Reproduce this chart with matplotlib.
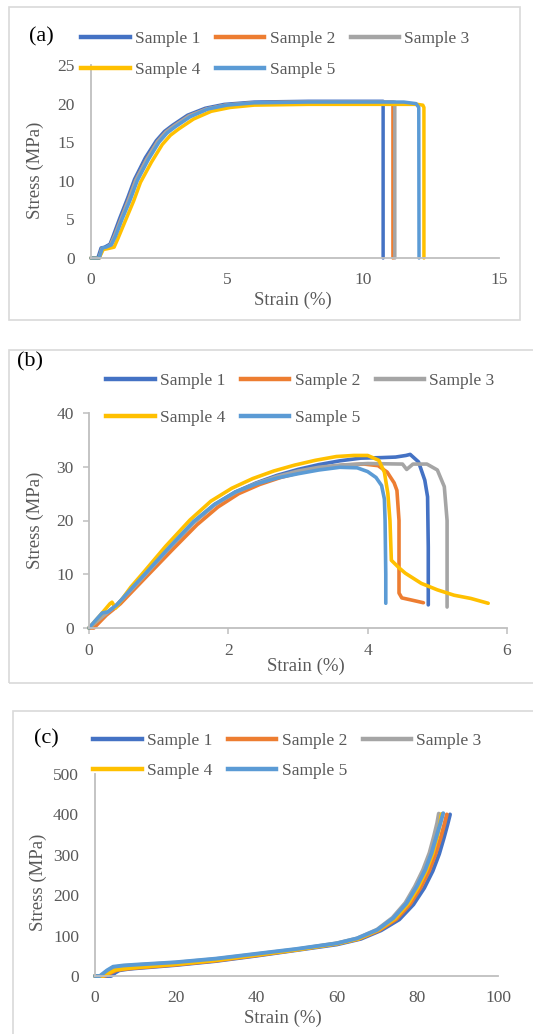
import matplotlib
matplotlib.use('Agg')
import matplotlib.pyplot as plt
from matplotlib.patches import Rectangle
from matplotlib.lines import Line2D

plt.rcParams['font.family'] = ['Liberation Serif', 'DejaVu Serif']

W, H = 533, 1034
names = ['Sample 1', 'Sample 2', 'Sample 3', 'Sample 4', 'Sample 5']
colors = ['#4472C4', '#ED7D31', '#A5A5A5', '#FFC000', '#5B9BD5']
txt = '#595959'
axc = '#BFBFBF'

# ---- (a) data: strain (%), stress (MPa)
a1_x = [0, 0.25, 0.37, 0.5, 0.7, 0.82, 1.05, 1.35, 1.6, 2.0, 2.4, 2.7, 3.0, 3.55, 4.2, 4.9, 6, 8, 10.74, 10.74]
a1_y = [0, 0, 1.3, 1.4, 1.8, 2.9, 5.1, 7.8, 10.2, 13, 15.2, 16.4, 17.2, 18.5, 19.4, 19.9, 20.2, 20.3, 20.3, 0]
a2_x = [0, 0.3, 0.4, 0.55, 0.72, 0.86, 1.1, 1.4, 1.65, 2.05, 2.45, 2.75, 3.05, 3.6, 4.25, 4.95, 6, 8, 11.1, 11.1]
a2_y = [0, 0, 1.2, 1.3, 1.7, 2.8, 5, 7.7, 10.1, 12.8, 15.1, 16.3, 17.1, 18.4, 19.3, 19.8, 20.1, 20.2, 20.2, 0]
a3_x = [0, 0.3, 0.4, 0.55, 0.72, 0.86, 1.1, 1.4, 1.65, 2.05, 2.45, 2.75, 3.05, 3.6, 4.25, 4.95, 6, 8, 11.17, 11.17]
a3_y = [0, 0, 1.2, 1.3, 1.7, 2.8, 5, 7.7, 10.1, 12.8, 15.1, 16.3, 17.1, 18.4, 19.3, 19.8, 20.1, 20.2, 20.2, 0]
a4_x = [0, 0.3, 0.45, 0.6, 0.85, 1.0, 1.26, 1.57, 1.82, 2.22, 2.62, 2.92, 3.22, 3.77, 4.42, 5.12, 6, 8, 10, 12, 12.2, 12.24, 12.24]
a4_y = [0, 0, 1.1, 1.2, 1.4, 2.6, 4.8, 7.4, 9.8, 12.4, 14.7, 15.9, 16.7, 18, 19, 19.5, 19.8, 19.9, 19.9, 19.9, 19.8, 19.5, 0]
a5_x = [0, 0.3, 0.42, 0.55, 0.75, 0.9, 1.14, 1.45, 1.7, 2.1, 2.5, 2.8, 3.1, 3.65, 4.3, 5.0, 6, 8, 10, 11.5, 11.95, 12.05, 12.06]
a5_y = [0, 0, 1.3, 1.4, 1.7, 2.8, 5, 7.6, 10, 12.7, 15, 16.2, 17, 18.3, 19.3, 19.8, 20.1, 20.2, 20.2, 20.2, 20.0, 19.5, 0]

# ---- (b) data
b1_x = [0, 0.2, 0.4, 0.6, 0.8, 1.15, 1.5, 1.8, 2.1, 2.4, 2.7, 3.0, 3.3, 3.6, 3.9, 4.2, 4.4, 4.55, 4.61, 4.73, 4.82, 4.86, 4.87, 4.87]
b1_y = [0, 2.2, 4.3, 7.0, 9.8, 14.8, 19.6, 22.9, 25.3, 27, 28.4, 29.5, 30.4, 31.1, 31.6, 31.7, 31.8, 32.1, 32.3, 30.9, 27.5, 24.4, 15, 4.3]
b2_x = [0, 0.07, 0.25, 0.45, 0.65, 0.85, 1.2, 1.55, 1.85, 2.15, 2.45, 2.75, 3.05, 3.35, 3.65, 3.95, 4.15, 4.28, 4.38, 4.42, 4.45, 4.45, 4.49, 4.63, 4.8]
b2_y = [0, 0, 2.4, 4.5, 7.2, 9.9, 14.6, 19.2, 22.5, 25, 26.7, 28, 29, 29.8, 30.3, 30.5, 30.2, 29, 27, 25.6, 20, 6.5, 5.6, 5.2, 4.7]
b3_x = [0, 0.2, 0.4, 0.6, 0.8, 1.15, 1.5, 1.8, 2.1, 2.4, 2.7, 3.0, 3.3, 3.6, 4.0, 4.5, 4.56, 4.65, 4.85, 5.0, 5.1, 5.14, 5.14]
b3_y = [0, 2.2, 4.3, 7.0, 9.8, 14.8, 19.6, 22.9, 25.2, 26.9, 28.2, 29.2, 29.9, 30.3, 30.6, 30.5, 29.5, 30.5, 30.5, 29.4, 26.3, 20, 3.9]
b4_x = [0, 0.15, 0.3, 0.33, 0.38, 0.6, 0.78, 1.1, 1.45, 1.75, 2.05, 2.35, 2.65, 2.95, 3.25, 3.55, 3.8, 4.0, 4.16, 4.24, 4.29, 4.32, 4.34, 4.45, 4.54, 4.77, 5.0, 5.24, 5.48, 5.73]
b4_y = [0, 2.2, 4.5, 4.8, 3.7, 7.6, 10.3, 15.2, 20.1, 23.6, 26, 27.8, 29.2, 30.3, 31.2, 31.9, 32.1, 32.1, 31.2, 29, 25, 20, 12.6, 11.2, 10.2, 8.3, 7.1, 6.1, 5.5, 4.6]
b5_x = [0, 0.1, 0.19, 0.27, 0.4, 0.6, 0.8, 1.15, 1.5, 1.8, 2.1, 2.4, 2.7, 3.0, 3.3, 3.6, 3.85, 4.0, 4.12, 4.2, 4.24, 4.25, 4.26, 4.26]
b5_y = [0, 1.5, 2.8, 3.0, 4.3, 7.2, 10, 15, 19.8, 23, 25.3, 26.8, 27.9, 28.7, 29.4, 29.9, 29.8, 29.1, 28, 26.5, 24, 20, 10, 4.6]

# ---- (c) data
c1_x = [0, 4, 5, 6, 8, 10, 20, 30, 40, 50, 60, 66, 71, 75.5, 79, 81.7, 83.8, 85.4, 86.6, 87.5, 88.1]
c1_y = [0, 0, 8, 14, 17, 19, 27, 37, 50, 64, 78, 92, 113, 140, 177, 218, 260, 302, 343, 376, 400]
c2_x = [0, 2.5, 4, 5.5, 8, 10, 20, 30, 40, 50, 60, 65.5, 70.5, 74.8, 78.2, 80.8, 82.9, 84.5, 85.8, 86.7, 87.3]
c2_y = [0, 0, 8, 15, 18, 20, 28, 38, 51, 65, 80, 92, 113, 141, 178, 219, 260, 302, 343, 376, 400]
c3_x = [0, 1.5, 3, 4.5, 7, 10, 20, 30, 40, 50, 60, 65, 70, 73.8, 77, 79.4, 81.4, 83, 84.1, 84.9, 85.3]
c3_y = [0, 0, 12, 21, 25, 27, 33, 42, 54, 66, 81, 93, 115, 144, 181, 222, 263, 305, 346, 379, 402]
c4_x = [0, 2, 3.5, 5, 8, 10, 20, 30, 40, 50, 60, 65.3, 70.3, 74.4, 77.7, 80.2, 82.2, 83.8, 84.9, 85.6, 86.0]
c4_y = [0, 0, 8, 15, 19, 21, 29, 39, 52, 65, 80, 92, 114, 142, 179, 220, 261, 303, 344, 377, 401]
c5_x = [0, 1.2, 3, 4.5, 7, 10, 20, 30, 40, 50, 60, 65, 70, 74, 77.3, 79.8, 81.9, 83.5, 84.7, 85.7, 86.4]
c5_y = [0, 0, 14, 23, 26, 28, 34, 43, 55, 67, 81, 93, 114, 143, 180, 221, 262, 304, 345, 378, 403]


def fx(x):
    return x / W


def fy(y):
    return 1 - y / H


def box(x0, y0, x1, y1):
    # pixel box -> figure fraction [left, bottom, width, height]
    return [fx(x0), fy(y1), (x1 - x0) / W, (y1 - y0) / H]


fig = plt.figure(figsize=(W / 100, H / 100), dpi=100)

# panel frames
for x0, y0, x1, y1 in [(9, 7, 520, 320), (9, 350, 545, 683), (13, 711, 545, 1045)]:
    fig.add_artist(Rectangle((fx(x0), fy(y1)), (x1 - x0) / W, (y1 - y0) / H,
                             transform=fig.transFigure, fill=False,
                             edgecolor='#D9D9D9', lw=1.2))

panels = [
    dict(rect=box(91, 65, 499, 258), xs=[a1_x, a2_x, a3_x, a4_x, a5_x], ys=[a1_y, a2_y, a3_y, a4_y, a5_y],
         xlim=(0, 15), xt=[0, 5, 10, 15], ylim=(0, 25), yt=[0, 5, 10, 15, 20, 25], ticks=False,
         letter='(a)', lpos=(41, 37), leg=(81, 31), lsp=0.84,
         xlab=(293, 300), ylab=(35, 170), lw=2.5),
    dict(rect=box(89, 413, 507, 628), xs=[b1_x, b2_x, b3_x, b4_x, b5_x], ys=[b1_y, b2_y, b3_y, b4_y, b5_y],
         xlim=(0, 6), xt=[0, 2, 4, 6], ylim=(0, 40), yt=[0, 10, 20, 30, 40], ticks=True,
         letter='(b)', lpos=(30, 362), leg=(106, 373), lsp=1.19,
         xlab=(306, 666), ylab=(35, 520), lw=2.6),
    dict(rect=box(95, 774, 498, 976), xs=[c1_x, c2_x, c3_x, c4_x, c5_x], ys=[c1_y, c2_y, c3_y, c4_y, c5_y],
         xlim=(0, 100), xt=[0, 20, 40, 60, 80, 100], ylim=(0, 500), yt=[0, 100, 200, 300, 400, 500], ticks=False,
         letter='(c)', lpos=(46, 739), leg=(93, 733), lsp=0.79,
         xlab=(283, 1018), ylab=(38, 882), lw=2.8),
]

for p in panels:
    ax = fig.add_axes(p['rect'])
    for xs, ys, c in zip(p['xs'], p['ys'], colors):
        ax.plot(xs, ys, color=c, lw=p['lw'], solid_capstyle='round', solid_joinstyle='round', clip_on=False)
    ax.set_xlim(*p['xlim'])
    ax.set_ylim(*p['ylim'])
    ax.set_xticks(p['xt'])
    ax.set_yticks(p['yt'])
    for s in ['top', 'right']:
        ax.spines[s].set_visible(False)
    for s in ['left', 'bottom']:
        ax.spines[s].set_color(axc)
        ax.spines[s].set_linewidth(1.3)
    if p['ticks']:
        ax.tick_params(axis='both', length=4, width=1.1, color=axc, labelsize=12.5, labelcolor=txt)
        ax.tick_params(axis='y', pad=7)
        ax.tick_params(axis='x', pad=7)
    else:
        ax.tick_params(axis='both', length=0, labelsize=12.5, labelcolor=txt)
        ax.tick_params(axis='y', pad=11.5)
        ax.tick_params(axis='x', pad=10)
    ax.set_facecolor('none')

    fig.text(fx(p['xlab'][0]), fy(p['xlab'][1]), 'Strain (%)', fontsize=13.5, color=txt,
             ha='center', va='center')
    fig.text(fx(p['ylab'][0]), fy(p['ylab'][1]), 'Stress (MPa)', fontsize=13.5, color=txt,
             ha='center', va='center', rotation=90)
    fig.text(fx(p['lpos'][0]), fy(p['lpos'][1]), p['letter'], fontsize=16, color='black',
             ha='center', va='center')

    handles = [Line2D([], [], color=c, lw=3.2) for c in colors]
    order = [0, 3, 1, 4, 2]
    leg = ax.legend([handles[i] for i in order], [names[i] for i in order],
                    loc='upper left', bbox_to_anchor=(fx(p['leg'][0]), fy(p['leg'][1])),
                    bbox_transform=fig.transFigure, ncol=3, frameon=False,
                    borderpad=0, borderaxespad=0, handlelength=2.8, handletextpad=0.3,
                    columnspacing=0.9, labelspacing=p['lsp'], fontsize=12.5)
    for t in leg.get_texts():
        t.set_color(txt)

fig.savefig('out.png', dpi=100)
